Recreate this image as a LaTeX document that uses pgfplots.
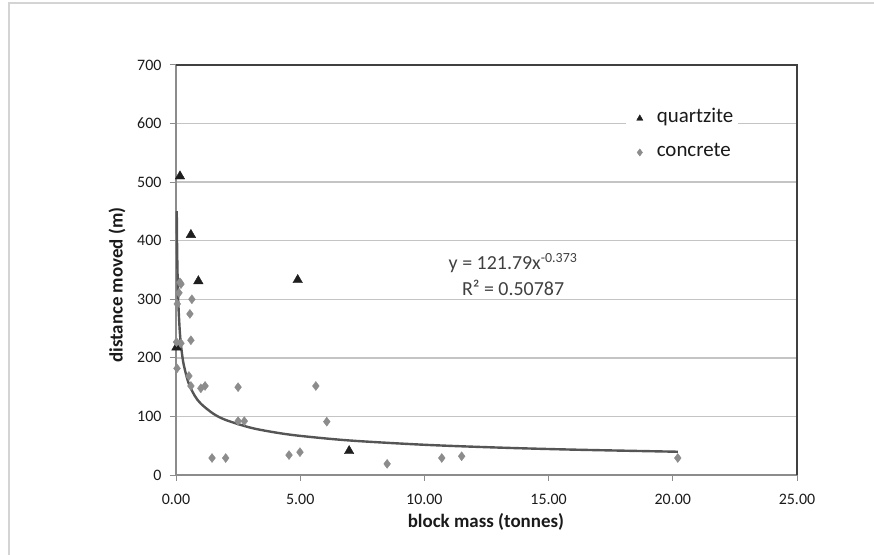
\documentclass[border=0pt]{standalone}
\usepackage{fontspec}
\setmainfont{Carlito}
\usepackage{pgfplots}
\pgfplotsset{compat=1.18}
\definecolor{quartz}{HTML}{1E1E1E}
\definecolor{concr}{HTML}{8C8C8C}
\definecolor{trend}{HTML}{555555}
\definecolor{gridc}{HTML}{C4C4C4}
\definecolor{axisc}{HTML}{8C8C8C}
\definecolor{framec}{HTML}{404040}
\definecolor{outerc}{HTML}{D4D4D4}
\definecolor{txt}{HTML}{1A1A1A}
\definecolor{eqc}{HTML}{404040}
\begin{document}
\begin{tikzpicture}
\begin{axis}[
  scale only axis, width=621bp, height=410bp,
  xmin=0, xmax=25, ymin=0, ymax=700,
  xtick={0,5,...,25}, ytick={0,100,...,700},
  axis x line*=bottom, axis y line*=left,
  axis line style={axisc, line width=1.2bp},
  ymajorgrids, major grid style={gridc, line width=1.3bp},
  tick align=outside, major tick length=6bp,
  tick style={axisc, line width=1bp},
  /pgf/number format/assume math mode=true,
  xticklabel style={/pgf/number format/fixed, /pgf/number format/fixed zerofill, /pgf/number format/precision=2},
  ticklabel style={font=\fontsize{16}{19}\selectfont, text=txt},
  xticklabel shift=10bp, yticklabel shift=5bp,
  xlabel={block mass (tonnes)}, ylabel={distance moved (m)},
  every axis x label/.style={at={(rel axis cs:0.499,0)}, yshift=-47bp, anchor=center, font=\bfseries\fontsize{19}{22}\selectfont, text=txt},
  every axis y label/.style={at={(rel axis cs:0,0.463)}, xshift=-59bp, rotate=90, anchor=center, font=\bfseries\fontsize{19}{22}\selectfont, text=txt},
  legend style={at={(rel axis cs:0.724,0.903)}, anchor=north west, draw=none, fill=white,
    inner xsep=2bp, inner ysep=2bp,
    nodes={font=\fontsize{21}{25}\selectfont, text=txt, inner sep=3bp, text height=13bp, text depth=4bp},
    row sep=11bp, column sep=0bp},
  legend image post style={mark size=3.6bp},
  legend image code/.code={\path[draw=none] (0.25cm-12bp,0cm) -- (0.25cm+14bp,0cm); \draw[#1] plot coordinates {(0.25cm,0cm)};},
  legend cell align=left,
  clip=false,
]
\draw[framec, line width=1.5bp] (rel axis cs:0,1) -- (rel axis cs:1,1) -- (rel axis cs:1,0);
\addplot[only marks, mark=triangle*, mark size=5.5bp, color=quartz] coordinates {
  (0.16,510) (0.6,410) (0.9,331) (0.02,218) (4.9,333) (6.97,41)
};
\addlegendentry{quartzite}
\addplot[only marks, mark=diamond*, mark size=4.5bp, color=concr] coordinates {
  (0.16,329) (0.2,326) (0.12,311) (0.05,292) (0.64,300) (0.56,275) (0.6,230)
  (0.02,227) (0.2,225) (0.04,182) (0.52,169) (0.6,152) (1.0,148) (1.17,152)
  (2.5,150) (2.5,92) (2.75,92) (1.45,29) (2.0,29) (5.63,152) (6.07,91)
  (4.55,34) (4.99,39) (8.5,19) (10.7,29) (11.5,32) (20.2,29)
};
\addlegendentry{concrete}
\addplot[forget plot, smooth, color=trend, line width=2.4bp] coordinates {
  (0.03,450.4) (0.04,404.6) (0.05,372.3) (0.07,328.4) (0.1,287.5) (0.15,247.1)
  (0.2,222.0) (0.3,190.8) (0.5,157.7) (0.75,135.6) (1,121.8) (1.5,104.7)
  (2,94.0) (3,80.8) (4,72.6) (5,66.8) (7,58.9) (10,51.6) (13,46.8) (16,43.3) (20.2,39.7)
};
\node[font=\fontsize{20}{26}\selectfont, text=eqc, align=center] at (axis cs:13.57,342) {y = 121.79x\textsuperscript{-0.373}\\R² = 0.50787};
\end{axis}
\draw[outerc, line width=2bp] (-167bp,-80bp) -- (-167bp,472bp) -- (698bp,472bp);
\pgfresetboundingbox
\path[use as bounding box] (-176bp,-80bp) rectangle (698bp,475bp);
\end{tikzpicture}
\end{document}
